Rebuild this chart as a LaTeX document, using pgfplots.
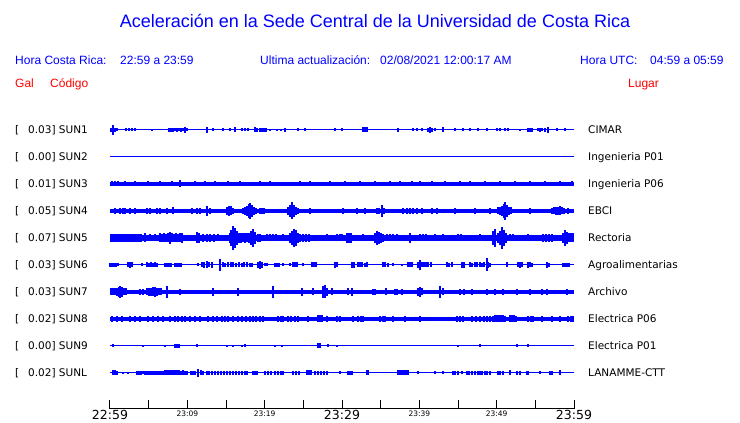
\documentclass[border=0pt]{standalone}
\usepackage{fontspec}
\setmainfont{Liberation Sans}
\newfontfamily\dejavu{DejaVu Sans}
\usepackage{pgfplots}
\pgfplotsset{compat=1.18}
\usepackage{pgfplotstable}
\definecolor{wblue}{RGB}{0,0,255}
\definecolor{wred}{RGB}{255,0,0}
\newcommand{\hdr}{\fontsize{12}{14}\selectfont}
\newcommand{\lbl}{\dejavu\fontsize{10.5}{12}\selectfont}
\newcommand{\bigt}{\fontsize{12.5}{13}\selectfont}
\newcommand{\sml}{\fontsize{7.5}{8}\selectfont}
\pgfplotsset{
  spikes/.style={color=wblue, draw=none, mark=none, forget plot,
    error bars/.cd, y dir=both, y explicit, error mark=none,
    error bar style={draw=wblue, line width=1.5pt}},
  base/.style={wblue, forget plot, line width=#1}
}
% SUN1 CIMAR
\pgfplotstableread[row sep=\\]{x a\\113 5\\111 2\\115 2\\117 1.5\\126 1.5\\129 1.5\\132 1.5\\135 1.5\\152 1\\169 2\\171 2\\173 2\\175 1.5\\177 2\\179 1.5\\181 2\\183 1.5\\185 3\\187 1.5\\207 3\\213 1.5\\223 1.5\\230 1.5\\235 2.5\\242 1.5\\245 1.5\\248 1.5\\255 2.5\\257 2\\260 2\\262 2\\264 2\\266 2\\270 1\\277 1\\281 1\\285 2\\298 1.5\\305 1.5\\335 1.5\\342 1.5\\363 2.5\\365 2.5\\367 2.5\\398 2\\413 1.5\\417 1.5\\422 1.5\\428 2\\430 3\\432 2\\435 1.5\\443 2.5\\455 1.5\\463 1.5\\470 1.5\\478 1.5\\487 1.5\\497 1.5\\500 1.5\\505 1.5\\508 1.5\\520 1\\528 2\\530 2\\532 2\\538 1.5\\540 2\\542 1.5\\545 2\\548 3\\557 1.5\\565 1.5\\}\tA
% SUN3 Ingenieria P06
\pgfplotstableread[row sep=\\]{x a\\112 2.5\\115 2.5\\118 2.5\\125 2.5\\135 2.5\\148 2.5\\160 2.5\\172 2.5\\180 3.5\\195 2.5\\205 2.5\\215 2.5\\228 2.5\\240 2.5\\260 2.5\\270 2.5\\300 2.5\\310 2.5\\330 2.5\\345 2.5\\360 2.5\\375 2.5\\390 2.5\\400 2.5\\412 2.5\\420 2.5\\432 2.5\\445 2.5\\460 2.5\\470 2.5\\485 2.5\\500 2.5\\515 2.5\\530 2.5\\545 2.5\\560 2.5\\572 2.5\\}\tC
% SUN4 EBCI
\pgfplotstableread[row sep=\\]{x a\\115 3\\120 3\\123 3\\125 3\\130 3\\135 3\\147 3\\150 3\\157 3\\160 3\\167 3\\173 3.5\\192 3\\197 3\\200 3\\207 5\\210 3\\227 4\\229 5\\231 4.5\\233 3\\243 3\\245 4\\247 5\\249 7\\250 8\\252 6\\254 4\\256 3\\260 3\\262 3\\264 3\\288 4\\290 6\\292 8.5\\294 6\\296 4\\298 3\\310 3\\343 3\\357 2.8\\365 3\\377 3\\379 3\\382 6\\384 3\\403 3\\407 3\\410 3\\413 3\\417 3\\422 3\\432 3\\437 3\\455 3\\475 3\\490 2.8\\498 3.5\\500 4\\502 5\\504 7\\505 9\\507 6\\509 4\\511 3.5\\530 3\\552 3\\554 3.5\\556 4\\558 4\\560 4.5\\562 3.5\\564 3\\568 2.8\\}\tD
% SUN5 Rectoria
\pgfplotstableread[row sep=\\]{x a\\111 4\\113 4\\115 4\\117 4\\119 4\\121 4\\123 4\\125 4\\127 4\\129 4\\131 4\\133 4\\135 4\\137 4\\139 4\\141 4\\145 4.5\\150 3.5\\155 3.5\\160 4.5\\162 4\\164 4.5\\166 4\\168 4.5\\170 6\\172 4.5\\174 4\\176 4.5\\178 4\\180 4.5\\182 5\\197 5.5\\199 5\\203 4\\207 4\\210 4\\214 4\\218 3.5\\230 5\\231 8\\233 12\\235 10\\237 7\\239 5\\241 5\\243 4.5\\245 5\\247 4.5\\249 5\\251 7\\253 9\\255 6\\258 4\\260 4\\267 3.5\\270 3.5\\273 3.5\\276 3.5\\283 3.5\\290 5\\292 7\\294 9\\296 8\\298 5\\300 4\\303 4\\306 4\\309 4\\327 3.5\\337 3.5\\340 3.5\\342 3.5\\347 5\\349 5\\351 5\\363 3.5\\375 5\\377 7\\379 6\\381 5\\383 4\\387 3.5\\390 3.5\\393 3.5\\397 3.5\\410 5\\420 3.5\\423 3.5\\426 3.5\\435 3.5\\443 3.5\\458 3.5\\461 3.5\\480 3.5\\493 7\\495 9\\498 5\\500 7\\502 11\\504 8\\506 5\\510 3.5\\513 3.5\\528 3.5\\543 4\\546 4\\549 4\\552 4\\563 5\\565 8\\567 6\\569 4.5\\571 4.5\\573 4.5\\}\tE
% SUN6 Agroalimentarias
\pgfplotstableread[row sep=\\]{x a\\110 2\\112 2\\114 2\\116 2\\118 1.5\\128 2.5\\130 3\\132 2.5\\142 1.5\\147 2.5\\149 2\\151 2.5\\153 2\\155 2.5\\157 2\\165 2\\167 2\\169 2\\171 2\\175 2\\177 2\\179 2\\181 2\\198 1.5\\202 2.5\\204 3\\207 3.5\\209 2.5\\212 3\\220 6\\223 2.5\\225 2\\228 2.5\\231 2.5\\233 2.5\\236 2\\239 2.5\\242 2\\244 2.5\\247 2.5\\250 2\\252 2\\258 3\\260 4\\262 3\\265 1.5\\267 1.5\\275 2\\277 2\\279 2\\283 1.5\\290 1.5\\293 2.5\\295 2.5\\297 2.5\\303 1.5\\312 2.5\\314 2.5\\316 2.5\\335 3\\337 2.5\\352 3\\354 3\\358 2.5\\360 2.5\\362 2.5\\365 2\\367 2.5\\383 2.5\\385 2.5\\388 2\\393 1.5\\402 1\\408 2.5\\410 2.5\\412 2.5\\418 3\\420 5\\422 2.5\\424 2.5\\426 2.5\\428 2.5\\431 2.5\\447 2.5\\449 2\\452 2.5\\462 3\\464 3\\470 2.5\\472 2\\475 2.5\\477 2.5\\480 2.5\\482 2\\484 2.5\\487 6.5\\488 3\\490 2\\507 2.5\\518 2.5\\520 3\\522 2.5\\528 3\\530 2.5\\532 2\\547 3\\549 2\\563 2\\565 2\\567 2\\569 2\\}\tF
% SUN7 Archivo
\pgfplotstableread[row sep=\\]{x a\\111 3.5\\113 3.5\\115 3.5\\117 4\\119 5\\120 6\\122 5\\124 3.5\\126 3.5\\140 3\\143 3\\147 3.5\\149 4\\151 4\\153 4.5\\155 5\\157 4\\159 3.5\\161 3.5\\167 6\\180 2.8\\213 4\\238 4\\273 6\\302 4\\313 3.5\\323 6\\325 6.5\\327 4\\332 3.5\\348 3.5\\352 4\\373 3\\375 3\\386 3.5\\395 3\\397 3\\402 3\\418 4\\420 5\\422 3.5\\440 6\\443 3.5\\460 3\\464 3\\472 3\\487 3\\495 3\\503 3\\517 3\\530 3\\542 3\\547 3\\567 3\\}\tG
% SUN8 Electrica P06
\pgfplotstableread[row sep=\\]{x a\\112 3\\117 3\\122 3\\130 3\\135 3\\140 3\\148 3\\153 3\\158 3\\163 3\\170 3\\175 3\\178 3\\182 3\\185 3\\190 3\\195 3\\200 3\\208 3\\213 3\\217 3\\222 3\\225 3\\228 3\\233 3\\238 3\\242 3\\246 3\\250 3\\253 3\\256 3\\260 3\\263 3\\278 3\\281 3\\283 3\\288 3\\291 3\\295 3\\298 3\\308 3\\318 3.5\\320 3.5\\322 3.5\\327 3\\337 3\\340 3\\353 3\\358 3\\361 3\\363 3\\380 3\\383 3\\385 3\\393 3\\405 3\\420 3\\457 3\\460 3\\463 3\\472 3\\476 3\\480 3\\484 3\\487 3\\490 3\\493 3\\495 3.5\\497 3.5\\499 3.5\\501 3.5\\503 3.5\\505 3\\510 3.5\\512 3.5\\514 3.5\\516 3\\528 3\\531 3\\533 3\\542 3\\552 3\\560 3\\568 3\\571 3\\573 3\\}\tH
% SUN9 Electrica P01
\pgfplotstableread[row sep=\\]{x a\\113 1.5\\143 1\\165 1\\175 2\\177 2\\179 2\\197 1.5\\227 1\\233 1\\242 1\\245 1.5\\275 1\\282 1\\318 2.5\\320 2.5\\328 1.5\\337 1\\458 1\\480 1.5\\517 1.5\\528 1.5\\}\tI
% SUNL LANAMME-CTT
\pgfplotstableread[row sep=\\]{x a\\113 2.5\\115 2.5\\117 2\\123 1\\128 1\\137 2\\139 2\\141 2\\143 1.5\\145 2\\147 2\\149 2\\151 2\\153 2\\155 2\\157 2\\159 2\\161 2\\163 2\\165 2.5\\167 2.5\\169 2.5\\171 2.5\\173 2.5\\175 2.5\\177 2.5\\179 2.5\\181 2\\183 2.5\\185 2\\187 2\\191 2\\193 2\\195 2\\198 4\\201 2.5\\203 2\\207 2\\209 2\\212 2\\215 2\\218 2\\221 2\\224 2\\227 2\\230 2\\233 2\\236 2\\239 2\\242 2\\245 2\\247 2\\253 2\\255 2\\257 2\\265 2\\268 2\\271 2\\275 2\\278 2\\281 2\\283 2\\293 2\\296 2\\299 2\\307 2.5\\309 2.5\\311 2.5\\315 2\\318 2\\321 2\\324 2\\327 2\\340 1.5\\348 2\\350 2\\352 2\\367 2.5\\368 2.5\\398 2.5\\400 2.5\\402 2.5\\404 2.5\\406 2.5\\408 2.5\\418 1.5\\435 1.5\\443 1.5\\453 2\\455 2\\458 2\\462 1.5\\467 2\\469 2\\472 2\\475 2\\478 2\\480 2\\482 2\\485 2\\487 2\\490 2\\498 2\\500 2\\503 2\\510 2.5\\517 2\\520 2\\527 2\\528 2\\540 1.5\\550 2\\552 2\\560 2.5\\}\tL
\begin{document}
\begin{tikzpicture}
\begin{axis}[
  at={(110pt,14pt)}, anchor=south west, scale only axis,
  width=464pt, height=299pt,
  xmin=110, xmax=574, ymin=14, ymax=313,
  axis x line*=bottom, axis y line=none,
  x axis line style={black, line width=1pt},
  xtick={110,148.667,187.333,226,264.667,303.333,342,380.667,419.333,458,496.667,535.333,574},
  xticklabels={{\bigt 22:59},{},{\sml 23:09},{},{\sml 23:19},{},{\bigt 23:29},{},{\sml 23:39},{},{\sml 23:49},{},{\bigt 23:59}},
  tick align=inside, major tick length=9pt,
  tick style={black, line width=1pt},
  xticklabel style={font=\dejavu, text=black, inner sep=1pt, yshift=-0.5pt},
  clip=false,
]
\coordinate (bl) at (axis cs:0,0);
\coordinate (tr) at (axis cs:740,423);
% baselines
\addplot[base=1pt] coordinates {(110,293) (574,293)};
\addplot[base=1pt] coordinates {(110,266) (574,266)};
\addplot[base=3.6pt] coordinates {(110,239) (574,239)};
\addplot[base=4.6pt] coordinates {(110,212) (574,212)};
\addplot[base=5.6pt] coordinates {(110,185) (574,185)};
\addplot[base=1pt] coordinates {(110,158) (574,158)};
\addplot[base=4.6pt] coordinates {(110,131) (574,131)};
\addplot[base=4pt] coordinates {(110,104) (574,104)};
\addplot[base=1pt] coordinates {(110,77) (574,77)};
\addplot[base=1pt] coordinates {(110,50) (574,50)};
% spikes
\addplot[spikes] table[x=x, y expr=293, y error=a] {\tA};
\addplot[spikes] table[x=x, y expr=239, y error=a] {\tC};
\addplot[spikes] table[x=x, y expr=212, y error=a] {\tD};
\addplot[spikes] table[x=x, y expr=185, y error=a] {\tE};
\addplot[spikes] table[x=x, y expr=158, y error=a] {\tF};
\addplot[spikes] table[x=x, y expr=131, y error=a] {\tG};
\addplot[spikes] table[x=x, y expr=104, y error=a] {\tH};
\addplot[spikes] table[x=x, y expr=77, y error=a] {\tI};
\addplot[spikes] table[x=x, y expr=50, y error=a] {\tL};
% header
\node[anchor=base, inner sep=0pt, text=wblue, font=\fontsize{18}{20}\selectfont] at (axis cs:375,395) {Aceleración en la Sede Central de la Universidad de Costa Rica};
\node[anchor=base west, inner sep=0pt, text=wblue, font=\hdr] at (axis cs:15,358.7) {Hora Costa Rica:};
\node[anchor=base west, inner sep=0pt, text=wblue, font=\hdr] at (axis cs:120,358.7) {22:59 a 23:59};
\node[anchor=base west, inner sep=0pt, text=wblue, font=\hdr] at (axis cs:260,358.7) {Ultima actualización:};
\node[anchor=base west, inner sep=0pt, text=wblue, font=\hdr] at (axis cs:380,358.7) {02/08/2021 12:00:17 AM};
\node[anchor=base west, inner sep=0pt, text=wblue, font=\hdr] at (axis cs:580,358.7) {Hora UTC:};
\node[anchor=base west, inner sep=0pt, text=wblue, font=\hdr] at (axis cs:650,358.7) {04:59 a 05:59};
\node[anchor=base west, inner sep=0pt, text=wred, font=\hdr] at (axis cs:15,335.7) {Gal};
\node[anchor=base west, inner sep=0pt, text=wred, font=\hdr] at (axis cs:50,335.7) {Código};
\node[anchor=base west, inner sep=0pt, text=wred, font=\hdr] at (axis cs:628,335.7) {Lugar};
% left labels
\node[anchor=base west, inner sep=0pt, font=\lbl] at (axis cs:15,289.2) {[};
\node[anchor=base west, inner sep=0pt, font=\lbl] at (axis cs:28,289.2) {0.03] SUN1};
\node[anchor=base west, inner sep=0pt, font=\lbl] at (axis cs:15,262.2) {[};
\node[anchor=base west, inner sep=0pt, font=\lbl] at (axis cs:28,262.2) {0.00] SUN2};
\node[anchor=base west, inner sep=0pt, font=\lbl] at (axis cs:15,235.2) {[};
\node[anchor=base west, inner sep=0pt, font=\lbl] at (axis cs:28,235.2) {0.01] SUN3};
\node[anchor=base west, inner sep=0pt, font=\lbl] at (axis cs:15,208.2) {[};
\node[anchor=base west, inner sep=0pt, font=\lbl] at (axis cs:28,208.2) {0.05] SUN4};
\node[anchor=base west, inner sep=0pt, font=\lbl] at (axis cs:15,181.2) {[};
\node[anchor=base west, inner sep=0pt, font=\lbl] at (axis cs:28,181.2) {0.07] SUN5};
\node[anchor=base west, inner sep=0pt, font=\lbl] at (axis cs:15,154.2) {[};
\node[anchor=base west, inner sep=0pt, font=\lbl] at (axis cs:28,154.2) {0.03] SUN6};
\node[anchor=base west, inner sep=0pt, font=\lbl] at (axis cs:15,127.2) {[};
\node[anchor=base west, inner sep=0pt, font=\lbl] at (axis cs:28,127.2) {0.03] SUN7};
\node[anchor=base west, inner sep=0pt, font=\lbl] at (axis cs:15,100.2) {[};
\node[anchor=base west, inner sep=0pt, font=\lbl] at (axis cs:28,100.2) {0.02] SUN8};
\node[anchor=base west, inner sep=0pt, font=\lbl] at (axis cs:15,73.2) {[};
\node[anchor=base west, inner sep=0pt, font=\lbl] at (axis cs:28,73.2) {0.00] SUN9};
\node[anchor=base west, inner sep=0pt, font=\lbl] at (axis cs:15,46.2) {[};
\node[anchor=base west, inner sep=0pt, font=\lbl] at (axis cs:28,46.2) {0.02] SUNL};
% right labels
\node[anchor=base west, inner sep=0pt, font=\lbl] at (axis cs:588,289.2) {CIMAR};
\node[anchor=base west, inner sep=0pt, font=\lbl] at (axis cs:588,262.2) {Ingenieria P01};
\node[anchor=base west, inner sep=0pt, font=\lbl] at (axis cs:588,235.2) {Ingenieria P06};
\node[anchor=base west, inner sep=0pt, font=\lbl] at (axis cs:588,208.2) {EBCI};
\node[anchor=base west, inner sep=0pt, font=\lbl] at (axis cs:588,181.2) {Rectoria};
\node[anchor=base west, inner sep=0pt, font=\lbl] at (axis cs:588,154.2) {Agroalimentarias};
\node[anchor=base west, inner sep=0pt, font=\lbl] at (axis cs:588,127.2) {Archivo};
\node[anchor=base west, inner sep=0pt, font=\lbl] at (axis cs:588,100.2) {Electrica P06};
\node[anchor=base west, inner sep=0pt, font=\lbl] at (axis cs:588,73.2) {Electrica P01};
\node[anchor=base west, inner sep=0pt, font=\lbl] at (axis cs:588,46.2) {LANAMME-CTT};
\end{axis}
\pgfresetboundingbox
\path[use as bounding box] (bl) rectangle (tr);
\end{tikzpicture}
\end{document}
